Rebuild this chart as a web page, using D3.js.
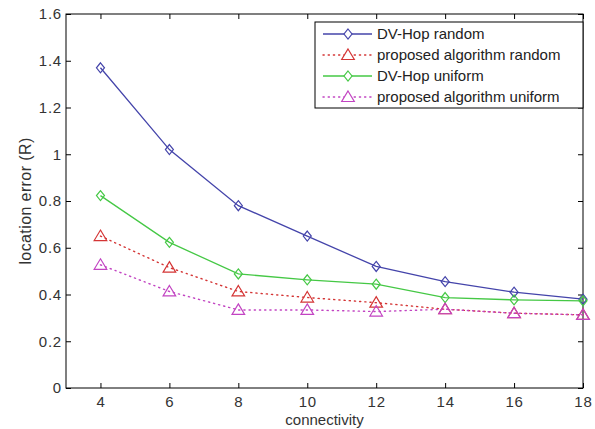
<!DOCTYPE html>
<html>
<head>
<meta charset="utf-8">
<script src="https://cdn.jsdelivr.net/npm/d3@7"></script>
<style>
  body { margin: 0; background: #fff; }
  text { font-family: "Liberation Sans", Arial, sans-serif; }
</style>
</head>
<body>
<div id="chart"></div>
<script>
// connectivity values on the x axis
const connectivity = [4, 6, 8, 10, 12, 14, 16, 18];

// location error
const dvHopRandom = [1.37, 1.02, 0.78, 0.65, 0.52, 0.455, 0.41, 0.38];
const proposedRandom = [0.65, 0.515, 0.413, 0.387, 0.365, 0.337, 0.32, 0.313];
const dvHopUniform = [0.823, 0.623, 0.488, 0.463, 0.444, 0.387, 0.377, 0.373];
const proposedUniform = [0.527, 0.413, 0.334, 0.334, 0.327, 0.337, 0.32, 0.313];

const xTicks = [4, 6, 8, 10, 12, 14, 16, 18];
const yTicks = [0, 0.2, 0.4, 0.6, 0.8, 1, 1.2, 1.4, 1.6];

const series = [
    { name: "DV-Hop random", values: dvHopRandom, color: "#4444aa", dash: null, marker: "diamond" },
    { name: "proposed algorithm random", values: proposedRandom, color: "#d43535", dash: "1.2,4", marker: "triangle" },
    { name: "DV-Hop uniform", values: dvHopUniform, color: "#45c845", dash: null, marker: "diamond" },
    { name: "proposed algorithm uniform", values: proposedUniform, color: "#c244c2", dash: "1.2,4", marker: "triangle" }
];

const margin = { top: 14, right: 12, bottom: 41, left: 66 },
    width = 595 - margin.left - margin.right,
    height = 429 - margin.top - margin.bottom;

const svg = d3.select("#chart")
    .append("svg")
    .attr("width", width + margin.left + margin.right)
    .attr("height", height + margin.top + margin.bottom)
    .append("g")
    .attr("transform", `translate(${margin.left},${margin.top})`);

const x = d3.scaleLinear().domain([3, 18]).range([0, width]);
const y = d3.scaleLinear().domain([0, 1.6]).range([height, 0]);

// axes, MATLAB style: ticks pointing inward, box on all sides
const tickLen = 5;
svg.append("g")
    .attr("transform", `translate(0,${height})`)
    .call(d3.axisBottom(x).tickValues(xTicks).tickSizeInner(-tickLen).tickSizeOuter(0).tickPadding(8))
    .call(g => g.select(".domain").remove());

svg.append("g")
    .call(d3.axisLeft(y).tickValues(yTicks).tickFormat(d3.format("~g")).tickSizeInner(-tickLen).tickSizeOuter(0).tickPadding(4))
    .call(g => g.select(".domain").remove());

svg.append("g")
    .call(d3.axisTop(x).tickValues(xTicks).tickSizeInner(-tickLen).tickSizeOuter(0).tickFormat(""))
    .call(g => g.select(".domain").remove());

svg.append("g")
    .attr("transform", `translate(${width},0)`)
    .call(d3.axisRight(y).tickValues(yTicks).tickSizeInner(-tickLen).tickSizeOuter(0).tickFormat(""))
    .call(g => g.select(".domain").remove());

svg.selectAll(".tick text")
    .attr("font-size", 15)
    .attr("letter-spacing", 0.8)
    .attr("fill", "#333");
svg.selectAll(".tick line").attr("stroke", "#000");

svg.append("rect")
    .attr("width", width)
    .attr("height", height)
    .attr("fill", "none")
    .attr("stroke", "#000")
    .attr("stroke-width", 1);

// marker shapes
const diamond = (cx, cy, r) => `M${cx},${cy - r}L${cx + r * 0.8},${cy}L${cx},${cy + r}L${cx - r * 0.8},${cy}Z`;
const triangle = (cx, cy, r) => `M${cx},${cy - r}L${cx + r * 1.05},${cy + r * 0.75}L${cx - r * 1.05},${cy + r * 0.75}Z`;
const markerPath = (m, cx, cy) => m === "diamond" ? diamond(cx, cy, 5) : triangle(cx, cy, 6);

const line = d3.line()
    .x((d, i) => x(connectivity[i]))
    .y(d => y(d));

series.forEach(s => {
    svg.append("path")
        .datum(s.values)
        .attr("fill", "none")
        .attr("stroke", s.color)
        .attr("stroke-width", s.dash ? 1.4 : 1.3)
        .attr("stroke-dasharray", s.dash)
        .attr("stroke-linecap", s.dash ? "round" : "butt")
        .attr("d", line);

    svg.append("g")
        .selectAll("path")
        .data(s.values)
        .join("path")
        .attr("d", (d, i) => markerPath(s.marker, x(connectivity[i]), y(d)))
        .attr("fill", "none")
        .attr("stroke", s.color)
        .attr("stroke-width", 1.2);
});

// legend
const legend = svg.append("g")
    .attr("transform", `translate(${315 - margin.left},${22 - margin.top})`);

legend.append("rect")
    .attr("width", width - (315 - margin.left))
    .attr("height", 86)
    .attr("fill", "#fff")
    .attr("stroke", "#000");

series.forEach((s, i) => {
    const ly = 12 + i * 21;
    legend.append("line")
        .attr("x1", 8).attr("x2", 57)
        .attr("y1", ly).attr("y2", ly)
        .attr("stroke", s.color)
        .attr("stroke-width", s.dash ? 1.4 : 1.3)
        .attr("stroke-dasharray", s.dash)
        .attr("stroke-linecap", s.dash ? "round" : "butt");
    legend.append("path")
        .attr("d", markerPath(s.marker, 33, ly))
        .attr("fill", "#fff")
        .attr("stroke", s.color)
        .attr("stroke-width", 1.2);
    legend.append("text")
        .attr("x", 62)
        .attr("y", ly)
        .attr("dy", "0.35em")
        .attr("font-size", 15)
        .attr("fill", "#222")
        .text(s.name);
});

// axis labels
svg.append("text")
    .attr("x", width / 2)
    .attr("y", height + 37)
    .attr("text-anchor", "middle")
    .attr("font-size", 15)
    .attr("fill", "#333")
    .text("connectivity");

svg.append("text")
    .attr("transform", "rotate(-90)")
    .attr("x", -height / 2)
    .attr("y", -35)
    .attr("text-anchor", "middle")
    .attr("font-size", 16)
    .attr("letter-spacing", 0.4)
    .attr("fill", "#333")
    .text("location error (R)");
</script>
</body>
</html>
